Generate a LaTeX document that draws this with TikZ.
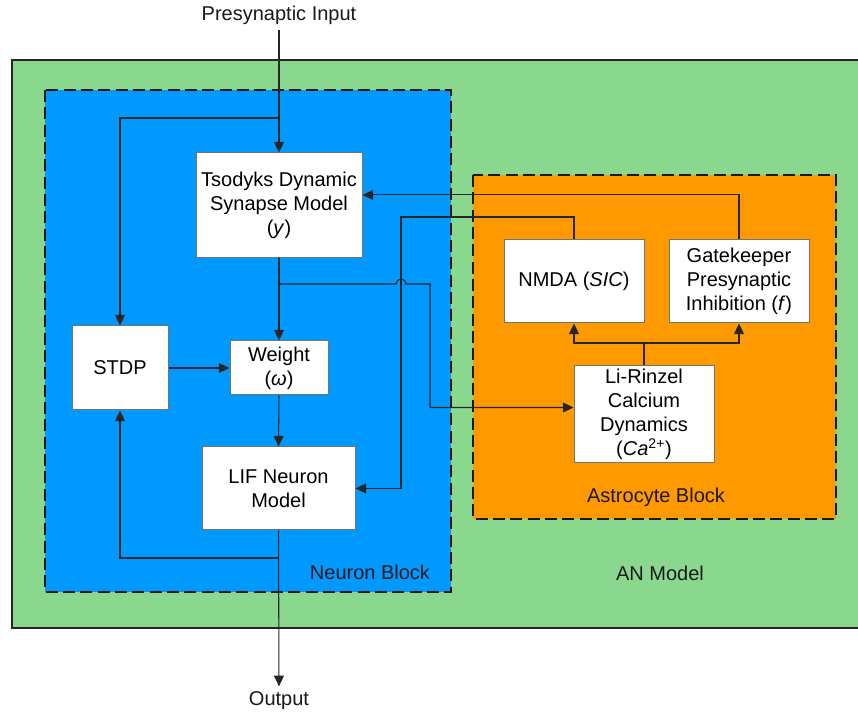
\documentclass[tikz,border=0pt]{standalone}
\usepackage{fontspec}
\setmainfont{Liberation Sans}
\usetikzlibrary{arrows.meta}
\definecolor{gbg}{RGB}{138,216,142}
\definecolor{bbg}{RGB}{0,153,255}
\definecolor{obg}{RGB}{255,153,0}
\begin{document}
\begin{tikzpicture}[x=0.75pt,y=-0.75pt,
  box/.style={draw=black!55, fill=white, line width=0.75pt, align=center,
    font=\fontsize{15}{18}\selectfont, inner sep=0pt},
  lbl/.style={font=\fontsize{15}{18}\selectfont, inner sep=0pt, text=black!90},
  conn/.style={draw=black!85, line width=0.8pt},
  arr/.style={conn, -{Triangle[length=8pt,width=7.5pt]}},
  blockb/.style={draw=black!90, line width=1.6pt, dash pattern=on 9pt off 4pt}]
\useasboundingbox (0,0) rectangle (858,712);
\fill[white] (0,0) rectangle (858,712);
% backgrounds
\filldraw[fill=gbg, draw=black!85, line width=1.2pt] (12,60) rectangle (862,628);
\filldraw[fill=bbg, blockb] (45,90) rectangle (451,592);
\filldraw[fill=obg, blockb] (473,175) rectangle (836,519);
% boxes
\node[box, minimum width=124.5pt, minimum height=78.75pt] (tsod) at (279,205.5)
  {Tsodyks Dynamic\\Synapse Model\\(\textit{y})};
\node[box, minimum width=72pt, minimum height=63pt] (stdp) at (120,368) {STDP};
\node[box, minimum width=73.5pt, minimum height=40.5pt] (weight) at (279,368)
  {Weight\\(\textit{ω})};
\node[box, minimum width=114.75pt, minimum height=62.25pt] (lif) at (278.5,488.5)
  {LIF Neuron\\Model};
\node[box, minimum width=105pt, minimum height=62.25pt] (nmda) at (574,281.5)
  {NMDA (\textit{SIC})};
\node[box, minimum width=105pt, minimum height=62.25pt] (gate) at (739,281.5)
  {Gatekeeper\\Presynaptic\\Inhibition (\textit{f})};
\node[box, minimum width=105pt, minimum height=72.75pt] (li) at (644,414.5)
  {Li-Rinzel\\Calcium\\Dynamics\\(\textit{Ca}\textsuperscript{2+})};
% labels
\node[lbl] (pin) at (279,15) {Presynaptic Input};
\node[lbl] (outl) at (279,701) {Output};
\node[lbl] (nb) at (370,572) {Neuron Block};
\node[lbl] (ab) at (656,497) {Astrocyte Block};
\node[lbl] (anm) at (660,573) {AN Model};
% coordinates
\coordinate (fb1) at (279,118);
\coordinate (fb2) at (279,558);
\coordinate (br) at (279,284);
\coordinate (split) at (644,343);
% connectors
\draw[arr] ([yshift=-4pt]pin.south) -- (tsod.north);
\draw[arr] (fb1) -| (stdp.north);
\draw[arr] (tsod.south) -- (weight.north);
\draw[arr] (stdp.east) -- (weight.west);
\draw[arr] (weight.south) -- (lif.north);
\draw[arr] (lif.south) -- ([yshift=4pt]outl.north);
\draw[arr] (fb2) -| (stdp.south);
\draw[arr] (br) -- (396,284) arc[start angle=180,end angle=0,radius=3.75pt]
  -- (430,284) |- ([yshift=5.25pt]li.west);
\draw[arr] (nmda.north) |- (401,217) |- (lif.east);
\draw[arr] (gate.north) |- ([yshift=7.9pt]tsod.east);
\draw[conn] (li.north) -- (split);
\draw[arr] (split) -| (nmda.south);
\draw[arr] (split) -| (gate.south);
\end{tikzpicture}
\end{document}
